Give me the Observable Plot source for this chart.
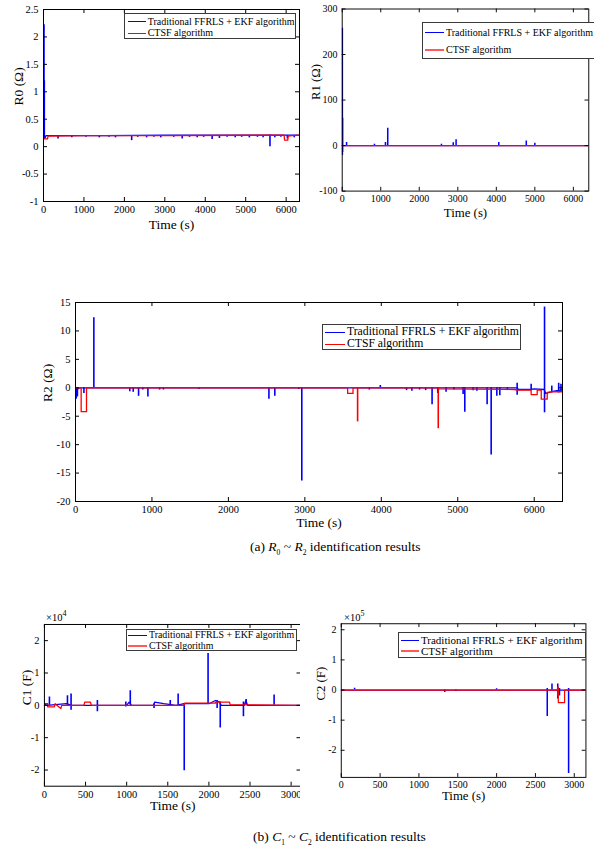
<!DOCTYPE html>
<html><head><meta charset="utf-8">
<script src="https://cdn.jsdelivr.net/npm/d3@7"></script>
<script src="https://cdn.jsdelivr.net/npm/@observablehq/plot@0.6"></script>
<style>
html,body{margin:0;padding:0;background:#fff;overflow:hidden;width:594px;height:847px;}
body{position:relative;font-family:"Liberation Serif","Times New Roman",serif;color:#000;}
.panel{position:absolute;overflow:hidden;}
.legend{position:absolute;box-sizing:border-box;border:1.3px solid #3a3a3a;background:#fff;}
.legend .ln{position:absolute;height:0;}
.legend .tx{position:absolute;line-height:1;white-space:nowrap;transform:translateY(-52%);font-family:"Liberation Serif","Times New Roman",serif;}
.expo{position:absolute;font-size:10.5px;line-height:1;white-space:nowrap;}
.expo sup{font-size:8px;line-height:0;vertical-align:5px;}
.caption{position:absolute;font-size:13.5px;line-height:1.2;white-space:nowrap;}
.caption sub{font-size:7.5px;line-height:0;}
</style></head><body>
<script>
const FONT = '"Liberation Serif","Times New Roman",serif';
const BLUE = "#0000ff", RED = "#ff0000";
const seriesNames = ["Traditional FFRLS + EKF algorithm", "CTSF algorithm"];
const xLabel = "Time (s)";

// ---------- (a) R0 ----------
const r0TimeTicks = [0,1000,2000,3000,4000,5000,6000];
const r0ValueTicks = [-1,-0.5,0,0.5,1,1.5,2,2.5];
const r0BlueLine = [[0,0.15],[30,0.15],[60,0.2],[1500,0.2],[3000,0.21],[4500,0.21],[6330,0.21]];
const r0BlueSpikes = [[12,0.15,2.22],[20,0.15,1.2],[360,0.2,0.14],[700,0.2,0.16],[1050,0.2,0.17],[1380,0.2,0.16],[1620,0.2,0.17],[1780,0.2,0.16],[2180,0.2,0.11],[2330,0.2,0.17],[2550,0.2,0.16],[2730,0.2,0.17],[2900,0.2,0.16],[3220,0.2,0.17],[3430,0.2,0.14],[3610,0.2,0.17],[3800,0.2,0.16],[3960,0.2,0.17],[4170,0.2,0.13],[4350,0.2,0.15],[4540,0.2,0.17],[4740,0.2,0.16],[4900,0.2,0.17],[5090,0.2,0.16],[5290,0.2,0.17],[5430,0.2,0.16],[5600,0.21,0.0],[5720,0.2,0.16],[5870,0.2,0.17],[6030,0.2,0.14],[6200,0.2,0.16]];
const r0RedLine = [[0,0.14],[100,0.14],[110,0.19],[1000,0.2],[3000,0.2],[5950,0.21],[5960,0.12],[6040,0.12],[6050,0.19],[6150,0.2],[6330,0.21]];
const r0RedSpikes = [];

// ---------- (a) R1 ----------
const r1TimeTicks = [0,1000,2000,3000,4000,5000,6000];
const r1ValueTicks = [-100,0,100,200,300];
const r1BlueLine = [[0,0],[6400,0]];
const r1BlueSpikes = [[4,-22,258],[10,-15,60],[113,0,7],[837,0,3],[1123,0,7],[1182,0,38],[2576,0,3],[2882,0,6],[2956,0,13],[4064,0,7],[4778,0,10],[5000,0,5]];
const r1RedLine = [[0,0],[6400,0]];
const r1RedSpikes = [];

// ---------- (a) R2 ----------
const r2TimeTicks = [0,1000,2000,3000,4000,5000,6000];
const r2ValueTicks = [-20,-15,-10,-5,0,5,10,15];
const r2BlueLine = [[0,-0.5],[30,-0.2],[60,0],[5780,0],[5790,-0.3],[5950,-0.3],[6000,-0.2],[6130,-0.3],[6150,-1.0],[6200,-0.8],[6260,-0.6],[6300,-0.5],[6340,-0.4],[6370,-0.3]];
const r2BlueSpikes = [[10,0,-2],[25,0,-1.6],[110,0,-1],[240,0,12.3],[710,0,-0.7],[755,0,-0.8],[825,0,-1.5],[880,0,-0.4],[947,0,-1.6],[1100,0,-0.4],[1150,0,-0.4],[1615,0,-0.3],[2530,0,-2],[2607,0,-1.5],[2920,0,-0.3],[2960,0,-16.4],[3843,0,-0.4],[3987,0,0.4],[4330,0,-0.5],[4400,0,-0.6],[4500,0,-0.4],[4580,0,-0.5],[4664,0,-3],[4738,0,-1],[4847,0,-0.8],[4950,0,-0.4],[5070,0,-1.2],[5092,0,-4.3],[5200,0,-0.5],[5250,0,-0.6],[5384,0,-3],[5437,0,-11.8],[5511,0,-1.5],[5550,0,-1.4],[5650,0,-0.5],[5777,-1.3,0.8],[5960,-0.3,0.6],[6135,-4.4,14.2],[6230,-0.8,0.3],[6320,-0.9,0.8],[6350,-0.8,0.6]];
const r2RedLine = [[0,0],[74,0],[74,-4.2],[144,-4.2],[144,0],[3560,0],[3560,-1],[3630,-1],[3630,0],[4740,0],[4760,-0.2],[5742,-0.3],[5780,-0.4],[5960,-0.4],[5960,-1.2],[6039,-1.2],[6039,-0.4],[6092,-0.4],[6092,-2],[6170,-2],[6170,-0.8],[6250,-0.7],[6370,-0.7]];
const r2RedSpikes = [[3690,0,-6],[4745,0,-7.2]];

// ---------- (b) C1 (x10^4) ----------
const c1TimeTicks = [0,500,1000,1500,2000,2500,3000];
const c1ValueTicks = [-2,-1,0,1,2];
const c1BlueLine = [[0,0.05],[30,0],[270,0.05],[330,0],[1000,0],[1030,0.1],[1060,0],[1330,0],[1340,0.1],[1450,0.05],[1600,0],[1700,0.05],[2000,0.05],[2080,0.15],[2130,0.1],[2150,0],[2430,0],[2450,0.15],[2470,0],[3120,0]];
const c1BlueSpikes = [[61,0,0.26],[280,0,0.3],[324,-0.15,0.35],[644,-0.2,0.15],[990,-0.05,0.1],[1044,0,0.45],[1333,-0.1,0.05],[1530,0,0.15],[1626,0,0.35],[1700,0.05,-2.02],[1990,0.05,1.6],[2100,-0.1,0.15],[2138,0.1,-0.7],[2420,0.1,-0.35],[2453,0,0.18],[2793,0,0.32]];
const c1RedLine = [[0,0.05],[40,0.05],[40,-0.05],[120,-0.05],[130,0.05],[150,0],[200,-0.1],[210,0],[480,0],[490,0.1],[560,0.1],[570,0],[1700,0],[1705,0.07],[2080,0.07],[2080,0.1],[2250,0.1],[2260,0.02],[3120,0]];
const c1RedSpikes = [];

// ---------- (b) C2 (x10^5) ----------
const c2TimeTicks = [0,500,1000,1500,2000,2500,3000];
const c2ValueTicks = [-2,-1,0,1,2];
const c2BlueLine = [[0,0],[3150,0]];
const c2BlueSpikes = [[172,0,0.06],[1333,0,-0.08],[1476,0,-0.05],[2000,0,0.04],[2652,0.05,-0.88],[2713,0,0.2],[2787,-0.3,0.2],[2810,-0.2,0.05],[2927,0.05,-2.77]];
const c2RedLine = [[0,0],[2780,0],[2790,0.1],[2795,-0.42],[2875,-0.42],[2875,0],[3150,0]];
const c2RedSpikes = [[2790,-0.2,0.1]];

function panel(cfg) {
  const {left, top, clipW, clipH, width, height, ml, mr, mt, mb, xDomain, yDomain, xTicks, yTicks,
         blueLine, blueSpikes, redLine, redSpikes, ylabel, ylabelDx, xlabelDy} = cfg;
  const iw = width - ml - mr, ih = height - mt - mb, tk = 4;
  const fmt = d => String(d);
  const svg = Plot.plot({
    width, height, marginLeft: ml, marginRight: mr, marginTop: mt, marginBottom: mb,
    x: {domain: xDomain},
    y: {domain: yDomain},
    style: {fontFamily: FONT, fontSize: "10.5px", background: "white", color: "black"},
    marks: [
      Plot.line(blueLine, {x: d => d[0], y: d => d[1], stroke: BLUE, strokeWidth: 1.3, clip: true}),
      Plot.ruleX(blueSpikes, {x: d => d[0], y1: d => d[1], y2: d => d[2], stroke: BLUE, strokeWidth: 1.6, clip: true}),
      Plot.line(redLine, {x: d => d[0], y: d => d[1], stroke: RED, strokeWidth: 1.3, clip: true}),
      Plot.ruleX(redSpikes, {x: d => d[0], y1: d => d[1], y2: d => d[2], stroke: RED, strokeWidth: 1.6, clip: true}),
      Plot.frame({stroke: "black", strokeWidth: 1}),
      Plot.tickX(xTicks, {x: d => d, insetTop: ih - tk, stroke: "black"}),
      Plot.tickX(xTicks, {x: d => d, insetBottom: ih - tk, stroke: "black"}),
      Plot.tickY(yTicks, {y: d => d, insetRight: iw - tk, stroke: "black"}),
      Plot.tickY(yTicks, {y: d => d, insetLeft: iw - tk, stroke: "black"}),
      Plot.axisX({ticks: xTicks, tickSize: 0, tickPadding: 4, tickFormat: fmt, label: null, fontSize: 10.5, fontFamily: FONT}),
      Plot.axisY({ticks: yTicks, tickSize: 0, tickPadding: 5, tickFormat: fmt, label: null, fontSize: 10.5, fontFamily: FONT}),
      Plot.text([xLabel], {text: d => d, frameAnchor: "bottom", dy: xlabelDy, fontSize: 13.5, fontFamily: FONT}),
      Plot.text([ylabel], {text: d => d, frameAnchor: "left", dx: ylabelDx, rotate: -90, fontSize: 13.5, fontFamily: FONT})
    ]
  });
  const div = document.createElement("div");
  div.className = "panel";
  Object.assign(div.style, {left: left + "px", top: top + "px", width: clipW + "px", height: clipH + "px"});
  div.appendChild(svg);
  document.body.appendChild(div);
}

function legend(cfg) {
  const {left, top, width, height, fontSize, rows, lineX0, lineX1, textX, widths} = cfg;
  const box = document.createElement("div");
  box.className = "legend";
  Object.assign(box.style, {left: left + "px", top: top + "px", width: width + "px", height: height + "px"});
  [BLUE, RED].forEach((c, i) => {
    const w = widths[i];
    const ln = document.createElement("div");
    ln.className = "ln";
    Object.assign(ln.style, {left: lineX0 + "px", width: (lineX1 - lineX0) + "px",
      top: Math.round(rows[i] - w / 2) + "px", borderTop: w + "px solid " + (w > 2 ? "#ff5a5a" : c)});
    box.appendChild(ln);
    const tx = document.createElement("div");
    tx.className = "tx";
    tx.textContent = seriesNames[i];
    Object.assign(tx.style, {left: textX + "px", top: rows[i] + "px", fontSize: fontSize + "px"});
    box.appendChild(tx);
  });
  document.body.appendChild(box);
}

function html(cls, left, top, inner) {
  const d = document.createElement("div");
  d.className = cls;
  d.style.left = left + "px"; d.style.top = top + "px";
  d.innerHTML = inner;
  document.body.appendChild(d);
}

// Panels
panel({left: 0, top: 0, clipW: 302, clipH: 245, width: 302, height: 245, ml: 43, mr: 3, mt: 9, mb: 44,
  xDomain: [0, 6330], yDomain: [-1, 2.5], xTicks: r0TimeTicks, yTicks: r0ValueTicks,
  blueLine: r0BlueLine, blueSpikes: r0BlueSpikes, redLine: r0RedLine, redSpikes: r0RedSpikes,
  ylabel: "R0 (Ω)", ylabelDx: -25, xlabelDy: 27});
panel({left: 300, top: 0, clipW: 294, clipH: 245, width: 310, height: 245, ml: 44, mr: 6, mt: 9, mb: 44,
  xDomain: [0, 6400], yDomain: [-100, 300], xTicks: r1TimeTicks, yTicks: r1ValueTicks,
  blueLine: r1BlueLine, blueSpikes: r1BlueSpikes, redLine: r1RedLine, redSpikes: r1RedSpikes,
  ylabel: "R1 (Ω)", ylabelDx: -28, xlabelDy: 27});
panel({left: 0, top: 290, clipW: 594, clipH: 250, width: 594, height: 250, ml: 75, mr: 32, mt: 12, mb: 39,
  xDomain: [0, 6370], yDomain: [-20, 15], xTicks: r2TimeTicks, yTicks: r2ValueTicks,
  blueLine: r2BlueLine, blueSpikes: r2BlueSpikes, redLine: r2RedLine, redSpikes: r2RedSpikes,
  ylabel: "R2 (Ω)", ylabelDx: -28, xlabelDy: 25});
panel({left: 0, top: 610, clipW: 301.5, clipH: 215, width: 302, height: 215, ml: 44, mr: 1, mt: 14, mb: 39,
  xDomain: [0, 3120], yDomain: [-2.5, 2.5], xTicks: c1TimeTicks, yTicks: c1ValueTicks,
  blueLine: c1BlueLine, blueSpikes: c1BlueSpikes, redLine: c1RedLine, redSpikes: c1RedSpikes,
  ylabel: "C1 (F)", ylabelDx: -18, xlabelDy: 24});
panel({left: 300, top: 610, clipW: 294, clipH: 215, width: 310, height: 215, ml: 43, mr: 9, mt: 14, mb: 39,
  xDomain: [0, 3150], yDomain: [-2.9, 2.2], xTicks: c2TimeTicks, yTicks: c2ValueTicks,
  blueLine: c2BlueLine, blueSpikes: c2BlueSpikes, redLine: c2RedLine, redSpikes: c2RedSpikes,
  ylabel: "C2 (F)", ylabelDx: -21, xlabelDy: 24});

// Legends
legend({left: 124, top: 13, width: 172, height: 26, fontSize: 10, rows: [7.7, 19.3], lineX0: 2.7, lineX1: 21, textX: 22.7, widths: [1.5, 1.5]});
legend({left: 422, top: 22, width: 180, height: 37, fontSize: 10, rows: [9.7, 27.3], lineX0: 2, lineX1: 21, textX: 23, widths: [1.5, 2.5]});
legend({left: 322, top: 323.7, width: 199.4, height: 26.6, fontSize: 11.7, rows: [7.3, 19.6], lineX0: 2, lineX1: 22, textX: 24, widths: [1.5, 1.5]});
legend({left: 126, top: 629, width: 170.7, height: 22, fontSize: 9.9, rows: [5.3, 16], lineX0: 0.7, lineX1: 20, textX: 22, widths: [1.5, 2.5]});
legend({left: 397.7, top: 632.3, width: 188.3, height: 25.4, fontSize: 11, rows: [7.7, 18.7], lineX0: 2.3, lineX1: 20.6, textX: 22.3, widths: [1.5, 2.5]});

// Exponent labels
html("expo", 46, 613, "×10<sup>4</sup>");
html("expo", 344, 613, "×10<sup>5</sup>");

// Captions
html("caption", 250, 539, "(a) <i>R</i><sub>0</sub> ~ <i>R</i><sub>2</sub> identification results");
html("caption", 253, 829, "(b) <i>C</i><sub>1</sub> ~ <i>C</i><sub>2</sub> identification results");
</script>
</body></html>
